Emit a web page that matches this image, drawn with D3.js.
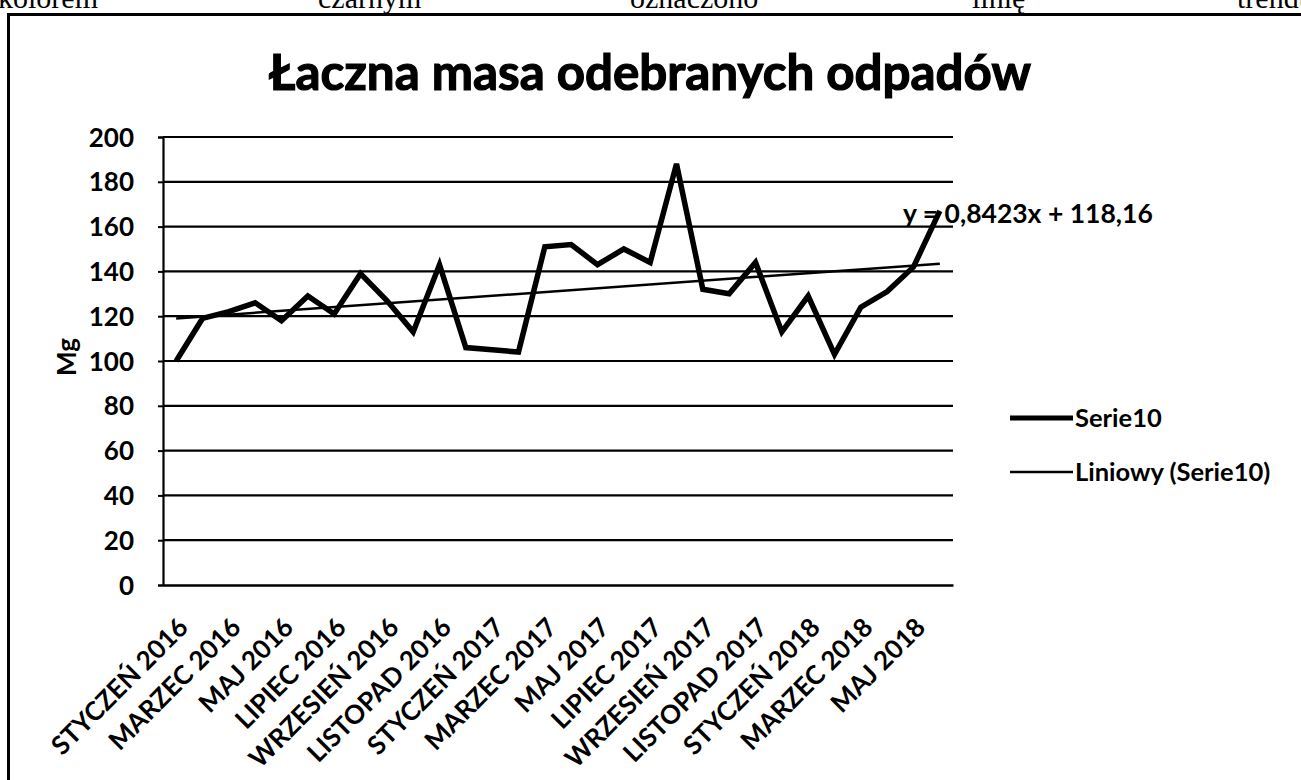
<!DOCTYPE html>
<html><head><meta charset="utf-8">
<script src="https://cdn.jsdelivr.net/npm/d3@7"></script>
<style>html,body{margin:0;padding:0;background:#fff;overflow:hidden}</style>
</head><body><svg id="c" width="1301" height="780"></svg>
<script>
// ---- data ----
const months = [
  "STYCZEŃ 2016","LUTY 2016","MARZEC 2016","KWIECIEŃ 2016","MAJ 2016","CZERWIEC 2016",
  "LIPIEC 2016","SIERPIEŃ 2016","WRZESIEŃ 2016","PAŹDZIERNIK 2016","LISTOPAD 2016","GRUDZIEŃ 2016",
  "STYCZEŃ 2017","LUTY 2017","MARZEC 2017","KWIECIEŃ 2017","MAJ 2017","CZERWIEC 2017",
  "LIPIEC 2017","SIERPIEŃ 2017","WRZESIEŃ 2017","PAŹDZIERNIK 2017","LISTOPAD 2017","GRUDZIEŃ 2017",
  "STYCZEŃ 2018","LUTY 2018","MARZEC 2018","KWIECIEŃ 2018","MAJ 2018","CZERWIEC 2018"
];
const values = [100,119,122,126,118,129,121,139,127,113,143,106,105,104,151,
                152,143,150,144,188,132,130,144,113,129,103,124,131,142,167];
const shownMonthLabels = months.filter((m,i)=>i%2===0);
const yTicks = [0,20,40,60,80,100,120,140,160,180,200];
const trendSlope = 0.8423, trendIntercept = 118.16;
const titleText = "Łaczna masa odebranych odpadów";
const yAxisLabel = "Mg";
const seriesName = "Serie10";
const trendName = "Liniowy (Serie10)";
const trendLabel = "y = 0,8423x + 118,16";
const captionWords = ["kolorem","czarnym","oznaczono","linię","trendu"];

// ---- layout ----
const svg = d3.select("#c");
const P = {left:163, right:953, top:137, bottom:585};
const font = "Lato, 'Open Sans', sans-serif";

// cut-off caption line above chart (continuation of the surrounding document)
const captionX = [-2, 318, 630, 972, 1237];
svg.selectAll("text.cap").data(captionWords).join("text")
  .attr("class","cap").attr("x",(d,i)=>captionX[i]).attr("y",8)
  .attr("font-family","'Liberation Serif', serif").attr("font-size",30)
  .attr("fill","#000").text(d=>d);

// chart frame
svg.append("path").attr("d","M8.5,790 L8.5,14.5 L1310,14.5")
  .attr("fill","none").attr("stroke","#000").attr("stroke-width",3);

// title
const t = svg.append("text").attr("x",650).attr("y",90).attr("text-anchor","middle")
  .attr("font-family",font).attr("font-weight","bold").attr("font-size",46)
  .attr("fill","#000").attr("stroke","#000").attr("stroke-width",1.2)
  .text(titleText);
{ const w = t.node().getComputedTextLength(); t.attr("font-size", 46*762/w); }

const x = d3.scalePoint().domain(months).range([P.left,P.right]).padding(0.5);
const y = d3.scaleLinear().domain([0,200]).range([P.bottom,P.top]);

// gridlines
svg.append("g").selectAll("line").data(yTicks.filter(v=>v>0)).join("line")
  .attr("x1",P.left).attr("x2",P.right).attr("y1",d=>y(d)).attr("y2",d=>y(d))
  .attr("stroke","#000").attr("stroke-width",2.2);

// y axis
const ya = svg.append("g").attr("transform",`translate(${P.left},0)`)
  .call(d3.axisLeft(y).tickValues(yTicks).tickSize(5).tickPadding(24));
ya.select(".domain").attr("stroke","#000").attr("stroke-width",2.2);
ya.selectAll(".tick line").attr("stroke","#000").attr("stroke-width",2);
ya.selectAll(".tick text").attr("font-family",font).attr("font-size",26)
  .attr("font-weight","bold").attr("fill","#000").attr("dy","0.35em");

// x axis
const xa = svg.append("g").attr("transform",`translate(0,${P.bottom})`)
  .call(d3.axisBottom(x).tickValues(shownMonthLabels).tickSize(0));
xa.select(".domain").attr("stroke","#000").attr("stroke-width",2.5);
xa.selectAll(".tick text").attr("font-family",font).attr("font-size",26)
  .attr("font-weight","bold").attr("fill","#000")
  .attr("text-anchor","end").attr("dy",0).attr("y",0)
  .attr("transform","translate(13,44) rotate(-45)");

// y axis label
svg.append("text").attr("transform","translate(76,357) rotate(-90)")
  .attr("text-anchor","middle").attr("font-family",font).attr("font-weight","bold")
  .attr("font-size",26).attr("fill","#000").text(yAxisLabel);

// trend line (from the chart's own equation, x = 1..n)
const n = values.length;
const trendEnds = [[months[0],trendSlope*1+trendIntercept],[months[n-1],trendSlope*n+trendIntercept]];
svg.append("path").datum(trendEnds)
  .attr("d",d3.line().x(d=>x(d[0])).y(d=>y(d[1])))
  .attr("fill","none").attr("stroke","#000").attr("stroke-width",2.5);

// series line
svg.append("path").datum(values)
  .attr("d",d3.line().x((d,i)=>x(months[i])).y(d=>y(d)))
  .attr("fill","none").attr("stroke","#000").attr("stroke-width",5.5)
  .attr("stroke-linejoin","miter").attr("stroke-linecap","butt");

// trend equation label
svg.append("text").attr("x",903).attr("y",223).attr("font-family",font)
  .attr("font-size",26.5).attr("font-weight","bold").attr("fill","#000").text(trendLabel);

// legend
const legend = [{name:seriesName,w:5,yy:418},{name:trendName,w:2.5,yy:472}];
const lg = svg.append("g").selectAll("g").data(legend).join("g");
lg.append("line").attr("x1",1010).attr("x2",1073).attr("y1",d=>d.yy).attr("y2",d=>d.yy)
  .attr("stroke","#000").attr("stroke-width",d=>d.w);
lg.append("text").attr("x",1075).attr("y",d=>d.yy).attr("dy","0.35em")
  .attr("font-family",font).attr("font-size",25.5).attr("font-weight","bold")
  .attr("fill","#000").text(d=>d.name);
</script></body></html>
